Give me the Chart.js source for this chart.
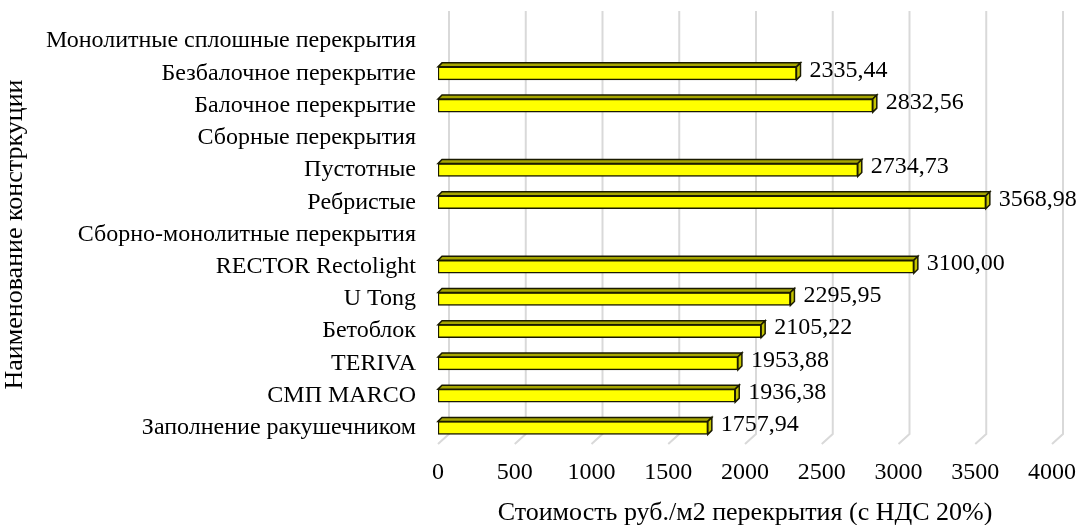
<!DOCTYPE html>
<html>
<head>
<meta charset="utf-8">
<script src="https://cdn.jsdelivr.net/npm/chart.js@4"></script>
<style>
html,body{margin:0;padding:0;background:#fff;}
#wrap{width:1085px;height:525px;position:relative;}
</style>
</head>
<body>
<div id="wrap"><canvas id="c" width="1085" height="525"></canvas></div>
<script>
const categories = [
  'Монолитные сплошные перекрытия',
  'Безбалочное перекрытие',
  'Балочное перекрытие',
  'Сборные перекрытия',
  'Пустотные',
  'Ребристые',
  'Сборно-монолитные перекрытия',
  'RECTOR Rectolight',
  'U Tong',
  'Бетоблок',
  'TERIVA',
  'СМП MARCO',
  'Заполнение ракушечником'
];
const costs = [null, 2335.44, 2832.56, null, 2734.73, 3568.98, null, 3100.00, 2295.95, 2105.22, 1953.88, 1936.38, 1757.94];
const xTicks = [0, 500, 1000, 1500, 2000, 2500, 3000, 3500, 4000];
const xTitle = 'Стоимость руб./м2 перекрытия (с НДС 20%)';
const yTitle = 'Наименование констркуции';

const FONT = "'Liberation Serif', 'Times New Roman', serif";
const DX = 11, DY = 10;   // depth of back wall
const BD = 4;             // bar depth

const gridPlugin = {
  id: 'grid3d',
  beforeDatasetsDraw(chart) {
    const ctx = chart.ctx, xs = chart.scales.x, a = chart.chartArea;
    ctx.save();
    ctx.strokeStyle = '#d9d9d9';
    ctx.lineWidth = 2;
    xTicks.forEach(v => {
      const xf = xs.getPixelForValue(v);
      ctx.beginPath();
      ctx.moveTo(xf + DX, a.top - 14);
      ctx.lineTo(xf + DX, a.bottom - DY);
      ctx.lineTo(xf, a.bottom);
      ctx.stroke();
    });
    ctx.restore();
  }
};

const barPlugin = {
  id: 'bars3d',
  afterDatasetsDraw(chart) {
    const ctx = chart.ctx;
    const meta = chart.getDatasetMeta(0);
    ctx.save();
    ctx.lineJoin = 'miter';
    meta.data.forEach((el, i) => {
      if (costs[i] === null) return;
      const top = el.y - el.height / 2, bot = el.y + el.height / 2;
      const x0 = el.base, x1 = el.x;
      ctx.lineWidth = 1.5;
      ctx.strokeStyle = '#1a1a00';
      // top face
      ctx.fillStyle = '#a6a600';
      ctx.beginPath();
      ctx.moveTo(x0, top);
      ctx.lineTo(x0 + BD, top - BD);
      ctx.lineTo(x1 + BD, top - BD);
      ctx.lineTo(x1, top);
      ctx.closePath();
      ctx.fill(); ctx.stroke();
      // right face
      ctx.fillStyle = '#c4c400';
      ctx.beginPath();
      ctx.moveTo(x1, top);
      ctx.lineTo(x1 + BD, top - BD);
      ctx.lineTo(x1 + BD, bot - BD);
      ctx.lineTo(x1, bot);
      ctx.closePath();
      ctx.fill(); ctx.stroke();
      // value label
      ctx.fillStyle = '#000';
      ctx.font = '24px ' + FONT;
      ctx.textAlign = 'left';
      ctx.textBaseline = 'middle';
      ctx.fillText(costs[i].toFixed(2).replace('.', ','), x1 + BD + 9, el.y - 3);
    });
    ctx.restore();
  }
};

new Chart(document.getElementById('c'), {
  type: 'bar',
  data: {
    labels: categories,
    datasets: [{
      data: costs,
      backgroundColor: '#ffff00',
      borderColor: '#1a1a00',
      borderWidth: 1.5,
      borderSkipped: false,
      barThickness: 13
    }]
  },
  plugins: [gridPlugin, barPlugin],
  options: {
    indexAxis: 'y',
    responsive: false,
    animation: false,
    devicePixelRatio: 1,
    layout: { padding: { left: 0, right: 33, top: 25, bottom: 0 } },
    plugins: { legend: { display: false }, tooltip: { enabled: false } },
    scales: {
      x: {
        min: 0, max: 4000,
        afterBuildTicks: s => { s.ticks = xTicks.map(v => ({ value: v })); },
        grid: { display: false },
        border: { display: false },
        ticks: { color: '#000', font: { family: FONT, size: 24 }, padding: 6, maxRotation: 0,
                 callback: v => String(v) },
        title: { display: true, text: xTitle, color: '#000', font: { family: FONT, size: 26 }, padding: { top: 4, bottom: -4 } },
        afterFit: s => { s.height = 81; }
      },
      y: {
        grid: { display: false },
        border: { display: false },
        ticks: { color: '#000', font: { family: FONT, size: 24 }, padding: 14, autoSkip: false },
        title: { display: true, text: yTitle, color: '#000', font: { family: FONT, size: 26 }, padding: { top: 0, bottom: 0 } },
        afterFit: s => { s.width = 438; s.paddingTop = 0; s.paddingBottom = 0; }
      }
    }
  }
});
</script>
</body>
</html>
